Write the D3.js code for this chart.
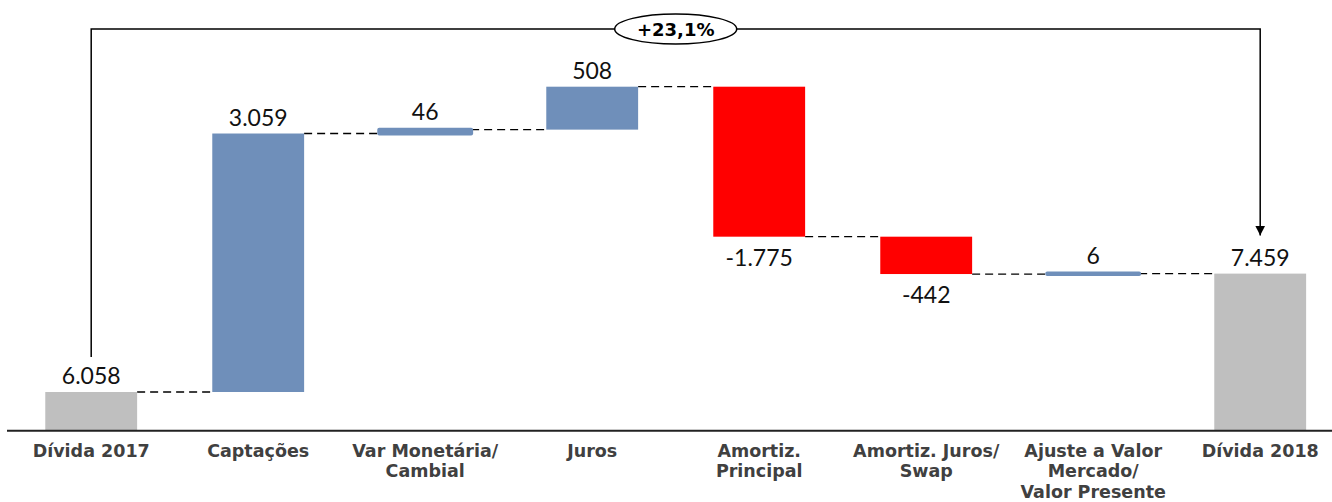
<!DOCTYPE html>
<html>
<head>
<meta charset="utf-8">
<script src="https://cdn.jsdelivr.net/npm/d3@7"></script>
<style>
  body { margin: 0; background: #fff; }
  .cat { font-family: "DejaVu Sans", Verdana, sans-serif; font-weight: bold; font-size: 17.5px; fill: #404040; }
  .val { font-family: Lato, "Open Sans", sans-serif; font-size: 23px; fill: #111; }
  .pct { font-family: "DejaVu Sans", Verdana, sans-serif; font-weight: bold; font-size: 18px; fill: #000; }
</style>
</head>
<body>
<svg width="1332" height="502" viewBox="0 0 1332 502"></svg>
<script>
// categories (one array of lines per label)
let categories = [
  ["Dívida 2017"],
  ["Captações"],
  ["Var Monetária/", "Cambial"],
  ["Juros"],
  ["Amortiz.", "Principal"],
  ["Amortiz. Juros/", "Swap"],
  ["Ajuste a Valor", "Mercado/", "Valor Presente"],
  ["Dívida 2018"],
];
let values = [6058, 3059, 46, 508, -1775, -442, 6, 7459];
let kinds = ["total", "delta", "delta", "delta", "delta", "delta", "delta", "total"];
let changeLabel = "+23,1%";

let colors = { total: "#bfbfbf", up: "#6f8fba", down: "#ff0000" };

let fmt = d3.formatLocale({ decimal: ",", thousands: ".", grouping: [3], currency: ["R$", ""], minus: "-" }).format(",d");

// running totals
let run = 0;
let data = values.map((v, i) => {
  let d = { i: i, v: v, kind: kinds[i], lines: categories[i] };
  if (kinds[i] === "total") {
    d.start = 0; d.end = v; run = v;
  } else {
    d.start = run; d.end = run + v; run = d.end;
  }
  return d;
});

let svg = d3.select("svg");
let baseY = 430.7;
let axisMin = 5600;

let xScale = d3.scaleBand()
  .domain(d3.range(values.length))
  .range([7.7, 1343.7])
  .paddingInner(0.45)
  .paddingOuter(0.225);

let yScale = d3.scaleLinear()
  .domain([axisMin, 10000])
  .range([baseY, baseY - 4400 * 0.0845]);

let yv = (v) => yScale(Math.max(v, axisMin));
let cx = (i) => xScale(i) + xScale.bandwidth() / 2;

// connectors
let fig = svg.append("g");
fig.selectAll(".conn")
  .data(data.slice(0, -1))
  .enter()
  .append("line")
  .attr("x1", (d) => xScale(d.i) + xScale.bandwidth())
  .attr("x2", (d) => xScale(d.i + 1))
  .attr("y1", (d) => yScale(d.end))
  .attr("y2", (d) => yScale(d.end))
  .attr("stroke", "#000")
  .attr("stroke-width", 1.3)
  .attr("stroke-dasharray", "8,5");

// bars
fig.selectAll(".bar")
  .data(data)
  .enter()
  .append("rect")
  .attr("x", (d) => xScale(d.i))
  .attr("width", xScale.bandwidth())
  .attr("y", (d) => yv(Math.max(d.start, d.end)))
  .attr("height", (d) => Math.abs(yv(d.start) - yv(d.end)))
  .attr("fill", (d) => d.kind === "total" ? colors.total : (d.v >= 0 ? colors.up : colors.down))
  .attr("stroke", (d) => d.kind === "delta" && Math.abs(d.v) < 100 ? colors.up : "none")
  .attr("stroke-width", 4)
  .attr("stroke-linejoin", "round");

// value labels
fig.selectAll(".val")
  .data(data)
  .enter()
  .append("text")
  .attr("class", "val")
  .attr("text-anchor", "middle")
  .attr("x", (d) => cx(d.i))
  .attr("y", (d) => d.v >= 0 ? yv(Math.max(d.start, d.end)) - (Math.abs(d.v) < 100 ? 10 : 8) : yv(d.end) + 29)
  .text((d) => fmt(d.v));

// axis line
svg.append("line")
  .attr("x1", 7).attr("x2", 1332)
  .attr("y1", baseY).attr("y2", baseY)
  .attr("stroke", "#222")
  .attr("stroke-width", 2);

// category labels
let cats = svg.selectAll(".cat")
  .data(data)
  .enter()
  .append("text")
  .attr("class", "cat")
  .attr("text-anchor", "middle")
  .attr("transform", (d) => `translate(${cx(d.i)},456.7)`);
cats.selectAll("tspan")
  .data((d) => d.lines)
  .enter()
  .append("tspan")
  .attr("x", 0)
  .attr("dy", (d, j) => j === 0 ? 0 : 20.6)
  .text((d) => d);

// change bracket
let topY = 29;
let x0 = cx(0), x1 = cx(values.length - 1);
svg.append("defs").append("marker")
  .attr("id", "arrow")
  .attr("viewBox", "0 0 10 10")
  .attr("refX", 10).attr("refY", 5)
  .attr("markerWidth", 10).attr("markerHeight", 10)
  .attr("markerUnits", "userSpaceOnUse")
  .attr("orient", "auto")
  .append("path")
  .attr("d", "M0,0 L10,5 L0,10 Z")
  .attr("fill", "#000");

svg.append("path")
  .attr("d", `M${x0},${yScale(values[0]) - 35} V${topY} H${x1} V${yScale(values[values.length - 1]) - 38}`)
  .attr("fill", "none")
  .attr("stroke", "#000")
  .attr("stroke-width", 1.5)
  .attr("marker-end", "url(#arrow)");

let mid = (x0 + x1) / 2;
svg.append("ellipse")
  .attr("cx", mid).attr("cy", topY)
  .attr("rx", 61).attr("ry", 15)
  .attr("fill", "#fff")
  .attr("stroke", "#000")
  .attr("stroke-width", 1.5);
svg.append("text")
  .attr("class", "pct")
  .attr("x", mid).attr("y", topY + 6.5)
  .attr("text-anchor", "middle")
  .text(changeLabel);
</script>
</body>
</html>
